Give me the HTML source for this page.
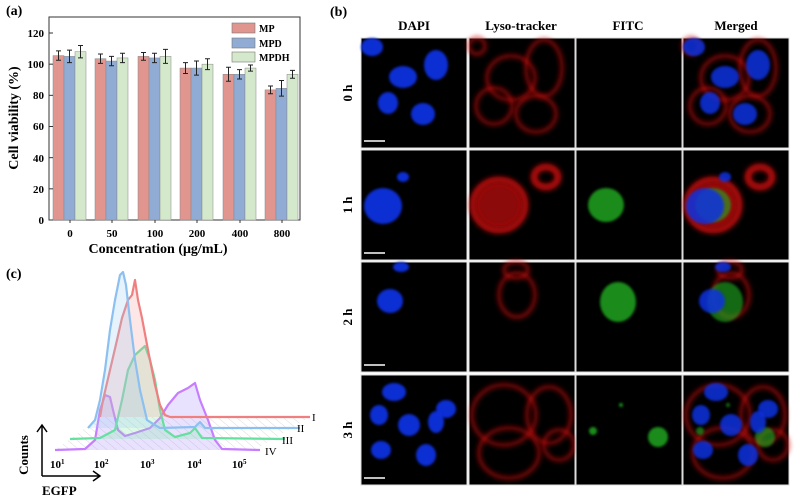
<!DOCTYPE html>
<html><head><meta charset="utf-8"><style>
html,body{margin:0;padding:0;background:#fff;}
svg{display:block;font-family:"Liberation Serif",serif;font-weight:bold;}
</style></head><body>
<svg id="s" width="798" height="499" viewBox="0 0 798 499" xmlns="http://www.w3.org/2000/svg">
<defs>
<filter id="b1" x="-50%" y="-50%" width="200%" height="200%"><feGaussianBlur stdDeviation="1.2"/></filter>
<filter id="b2" x="-50%" y="-50%" width="200%" height="200%"><feGaussianBlur stdDeviation="2.5"/></filter>
<pattern id="hatch" width="6" height="6" patternUnits="userSpaceOnUse" patternTransform="rotate(-50)"><line x1="0" y1="0" x2="0" y2="6" stroke="#999" stroke-width="0.6"/></pattern>
</defs>
<text x="6" y="15" font-size="14">(a)</text>
<rect x="49" y="17" width="251" height="203" fill="none" stroke="#333" stroke-width="1"/>
<g id="bars"></g>
<g font-size="11" text-anchor="end">
<text x="44" y="224">0</text><text x="44" y="193">20</text><text x="44" y="162">40</text><text x="44" y="130">60</text><text x="44" y="99">80</text><text x="44" y="68">100</text><text x="44" y="37">120</text>
</g>
<g font-size="11" text-anchor="middle">
<text x="70" y="237">0</text><text x="112" y="237">50</text><text x="155" y="237">100</text><text x="197" y="237">200</text><text x="240" y="237">400</text><text x="282" y="237">800</text>
</g>
<text x="158" y="253" font-size="14" text-anchor="middle">Concentration (μg/mL)</text>
<text transform="translate(18,118) rotate(-90)" font-size="14" text-anchor="middle">Cell viability (%)</text>
<rect x="232" y="23" width="23" height="10" fill="#e0958f" stroke="#777" stroke-width="0.6"/>
<rect x="232" y="38" width="23" height="10" fill="#90acd4" stroke="#777" stroke-width="0.6"/>
<rect x="232" y="52" width="23" height="10" fill="#d4e8cc" stroke="#777" stroke-width="0.6"/>
<g font-size="10"><text x="259" y="32">MP</text><text x="259" y="47">MPD</text><text x="259" y="61">MPDH</text></g>

<text x="6" y="278" font-size="14">(c)</text>
<polygon points="100,417 310,417 255,450 55,450" fill="url(#hatch)" opacity="0.6"/>
<g id="curves" stroke-width="2.2" stroke-linejoin="round"></g>
<g font-size="11" font-weight="normal"><text x="312" y="421">I</text><text x="297" y="432">II</text><text x="282" y="444">III</text><text x="265" y="455">IV</text></g>
<g font-size="11"><text x="50" y="468">10<tspan font-size="7" dy="-4">1</tspan></text><text x="94" y="468">10<tspan font-size="7" dy="-4">2</tspan></text><text x="140" y="468">10<tspan font-size="7" dy="-4">3</tspan></text><text x="187" y="468">10<tspan font-size="7" dy="-4">4</tspan></text><text x="232" y="468">10<tspan font-size="7" dy="-4">5</tspan></text></g>
<path d="M42,476 V426 M37,432 L42,425 L47,432 M42,476 H100 M93,471 L100,476 L93,481" stroke="#000" stroke-width="1.5" fill="none"/>
<text transform="translate(28,455) rotate(-90)" font-size="13" text-anchor="middle">Counts</text>
<text x="42" y="495" font-size="13">EGFP</text>

<text x="330" y="16" font-size="14">(b)</text>
<g font-size="13" text-anchor="middle"><text x="414" y="30">DAPI</text><text x="521" y="30">Lyso-tracker</text><text x="628" y="30">FITC</text><text x="736" y="30">Merged</text></g>
<g font-size="13" text-anchor="middle">
<text transform="translate(352,93) rotate(-90)">0 h</text>
<text transform="translate(352,205) rotate(-90)">1 h</text>
<text transform="translate(352,317) rotate(-90)">2 h</text>
<text transform="translate(352,430) rotate(-90)">3 h</text></g>
<g id="grid"></g>
</svg>
<script>
const NS="http://www.w3.org/2000/svg";
function el(p,t,a){const e=document.createElementNS(NS,t);for(const k in a)e.setAttribute(k,a[k]);p.appendChild(e);return e;}
const y=v=>220-v*187/120;
const data=[[[105.5,3],[105,4],[108,4]],[[103.5,3],[102,3],[104,3]],[[105,2.5],[104,3],[105,4.5]],[[97.5,3.5],[97.5,4.5],[100,3.5]],[[93.5,4.5],[93.5,3],[97.5,2]],[[83.5,2.5],[84.5,5],[93.5,2.5]]];
const cs=[70,112,155,197,240,282],col=["#e0958f","#90acd4","#d4e8cc"];
const g=document.getElementById('bars');
data.forEach((gr,i)=>gr.forEach((d,j)=>{const x=cs[i]-17+j*11;
el(g,'rect',{x:x,y:y(d[0]),width:11,height:220-y(d[0]),fill:col[j],stroke:'#888','stroke-width':0.5});
const cx=x+5.5;el(g,'path',{d:`M${cx},${y(d[0]+d[1])}V${y(d[0]-d[1])}M${cx-2.5},${y(d[0]+d[1])}h5M${cx-2.5},${y(d[0]-d[1])}h5`,stroke:'#222','stroke-width':1,fill:'none'});}));
for(let v=0;v<=120;v+=20){el(g,'line',{x1:49,x2:53,y1:y(v),y2:y(v),stroke:'#333'});}
cs.forEach(c=>el(g,'line',{x1:c,x2:c,y1:220,y2:223,stroke:'#333'}));
const C=document.getElementById('curves');
const curves=[
["#a78bfa","#c77dff",[[55,450],[85,449],[95,440],[100,410],[105,395],[110,397],[113,410],[118,430],[125,436],[135,433],[150,428],[160,418],[168,405],[178,393],[188,388],[195,383],[200,400],[208,420],[215,440],[222,449],[260,450]]],
["#7ee8a8","#66e0a0",[[70,439],[100,438],[115,430],[122,400],[128,370],[135,355],[145,346],[150,360],[155,380],[160,410],[165,430],[175,437],[190,433],[195,428],[202,438],[285,439]]],
["#f59a9a","#f08080",[[100,417],[103,400],[110,370],[117,340],[122,318],[128,300],[132,295],[135,280],[138,300],[142,318],[148,350],[155,385],[160,405],[165,415],[170,417],[310,417]]],
["#9ccaf5","#8cc0f0",[[88,428],[95,420],[100,400],[105,370],[110,330],[115,300],[120,275],[123,272],[126,285],[130,320],[135,360],[140,390],[147,420],[155,425],[160,428],[195,427],[200,422],[205,428],[300,428]]]];
curves.forEach(c=>{const p=c[2];const last=p[p.length-1];el(C,'path',{d:'M'+p.map(q=>q.join(',')).join('L')+`L${last[0]},${p[0][1]}Z`,fill:c[0],'fill-opacity':0.25,stroke:'none'});
el(C,'path',{d:'M'+p.map(q=>q.join(',')).join('L'),fill:'none',stroke:c[1],'stroke-width':2.2});});
const G=document.getElementById('grid');
const cx=[361,469,576,683],cy=[38,150,262,375],W=106,H=110;
const blobs=[
 {b:[[10,5,11,9],[75,27,12,15],[42,39,14,11],[27,65,10,11],[62,76,12,11]],r:[[42,40,24,22],[75,30,18,28],[25,68,18,18],[67,76,20,18],[8,5,8,8]],g:[]},
 {b:[[22,56,19,18],[42,27,6,5]],r:[[30,55,26,25],[77,27,12,10]],g:[[30,55,18,17]]},
 {b:[[29,39,13,12],[40,1,8,5]],r:[[48,33,18,22],[47,0,12,8]],g:[[42,40,18,20]]},
 {b:[[33,17,12,9],[18,40,9,10],[20,75,10,9],[48,50,11,11],[85,34,10,9],[75,47,8,11],[65,80,10,11]],r:[[35,40,32,30],[80,40,22,28],[40,78,30,25],[90,70,15,15]],g:[[17,56,4,4],[82,62,10,10],[45,30,2,2]]}];
cy.forEach((yy,r)=>cx.forEach((xx,c)=>{
 el(G,'rect',{x:xx,y:yy,width:W,height:H,fill:'#000',stroke:'#ddd','stroke-width':1});
 const B=blobs[r];
 const addE=(arr,fill,ring,op)=>arr.forEach(e=>{
  if(ring) el(G,'ellipse',{cx:xx+e[0],cy:yy+e[1],rx:e[2],ry:e[3],fill:'none',stroke:fill,'stroke-width':r==1?7:4,opacity:op,filter:'url(#b2)'});
  else el(G,'ellipse',{cx:xx+e[0],cy:yy+e[1],rx:e[2],ry:e[3],fill:fill,opacity:op,filter:'url(#b1)'});});
 if(r==1&&(c==1||c==3)) addE([[30,55,23,22]],'#b01010',false,0.8);
 if(c==1||c==3) addE(B.r.map(e=>[Math.min(Math.max(e[0],e[2]),W-e[2]),Math.min(Math.max(e[1],e[3]),H-e[3]),e[2],e[3]]),'#d01010',true,r==1?0.85:0.6);
 if(c==2||c==3) addE(B.g.map(e=>[Math.max(e[0],e[2]),e[1],e[2],e[3]]),'#22b022',false,c==3?0.6:0.8);
 if(c==0||c==3) addE(B.b.map(e=>[Math.max(e[0],e[2]),Math.max(e[1],e[3]),e[2],e[3]]),'#1030e0',false,c==3?0.85:0.95);
 if(c==0) el(G,'line',{x1:xx+3,x2:xx+24,y1:yy+103,y2:yy+103,stroke:'#fff','stroke-width':1.5});
}));
</script>
</body></html>
